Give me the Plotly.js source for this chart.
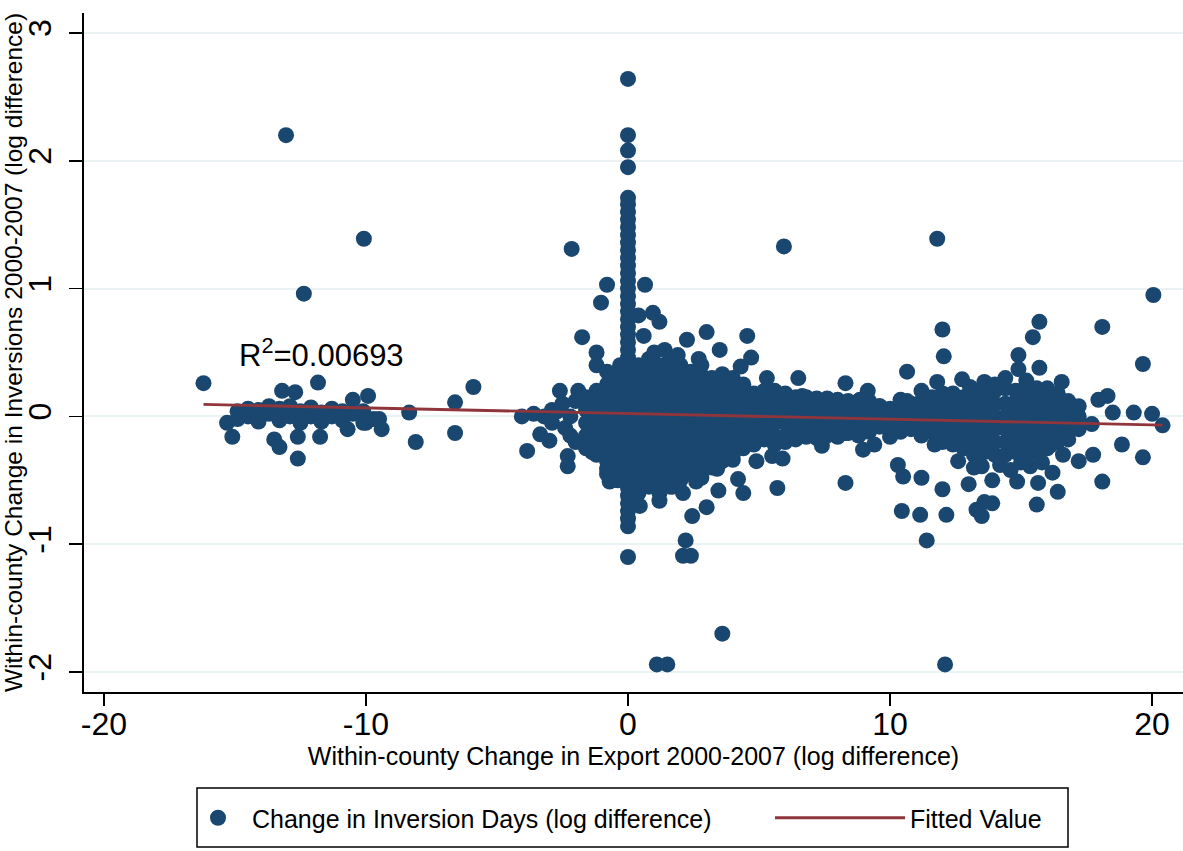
<!DOCTYPE html>
<html>
<head>
<meta charset="utf-8">
<script src="https://cdn.plot.ly/plotly-3.0.1.min.js"></script>
<style>html,body{margin:0;padding:0;background:#fff;}#chart{width:1183px;height:851px;}</style>
</head>
<body>
<div id="chart"></div>
<script>
// ---- data ----
const leftCluster = [
[-16.2,0.26],[-15.3,-0.05],[-15.1,-0.16],[-14.9,-0.02],[-14.9,0.04],[-14.5,0.0],[-14.5,0.06],[-14.1,-0.04],[-14.1,0.05],
[-13.7,0.02],[-13.7,0.08],[-13.5,-0.18],[-13.3,-0.24],[-13.3,-0.03],[-13.3,0.06],[-13.2,0.2],[-12.9,0.0],[-12.9,0.08],
[-12.7,0.19],[-12.6,-0.16],[-12.6,-0.33],[-12.5,-0.05],[-12.5,0.04],[-12.1,0.0],[-12.1,0.07],[-11.83,0.265],[-11.75,-0.16],
[-11.7,-0.04],[-11.7,0.03],[-11.3,0.0],[-11.3,0.06],[-10.9,-0.03],[-10.9,0.04],[-10.7,-0.1],[-10.5,0.02],[-10.5,0.13],
[-10.1,-0.05],[-10.1,0.04],[-10.0,-0.05],[-9.92,0.16],[-9.7,-0.02],[-9.5,-0.02],[-9.4,-0.1],[-8.35,0.03],[-8.1,-0.2],
[-6.6,0.11],[-6.6,-0.13],[-5.9,0.23],[-13.05,2.2],[-10.08,1.39],[-12.37,0.96]
];
const nearSpike = [
[-4.05,0.0],[-3.6,0.02],[-3.85,-0.27],[-3.35,-0.14],[-3.2,0.0],[-3.0,-0.19],[-2.9,0.05],[-2.9,-0.05],[-2.7,0.04],
[-2.6,0.2],[-2.5,0.1],[-2.4,-0.09],[-2.3,-0.31],[-2.3,-0.39],[-2.2,0.0],[-2.2,-0.15],[-2.0,0.12],[-2.0,-0.2],[-1.9,0.2],
[-1.75,0.62],[-1.37,-0.28],[-1.2,0.5],[-1.2,0.4],[-1.2,0.17],[-0.8,-0.41],[-0.7,-0.51],[-0.3,0.4],[-2.15,1.31],
[-1.03,0.89],[-0.8,1.03],[0.4,0.79],[0.6,0.63],[0.65,1.03],[0.95,0.81],[1.2,0.74],[1.4,0.52],[1.0,0.5],[1.9,0.48],
[2.25,0.6],[2.7,0.45],[3.0,0.66],[3.5,0.52],[4.3,0.39],[4.55,0.63],[4.7,0.46],[5.3,0.3],[6.5,0.3],[8.3,0.26],
[8.8,0.12],[9.15,0.2],[5.5,0.19],[6.65,0.16],
[0.45,-0.7],[1.2,-0.66],[1.7,-0.55],[2.1,-0.6],[2.45,-0.78],[2.6,-0.51],[3.0,-0.71],[3.4,-0.41],[3.45,-0.58],
[4.0,-0.34],[4.2,-0.49],[4.4,-0.6],[4.9,-0.35],[5.5,-0.31],[5.7,-0.56],[5.9,-0.33],[6.95,-0.14],[7.4,-0.23],
[8.3,-0.13],[8.3,-0.52],[2.2,-0.97],[2.1,-1.09],[2.4,-1.09],[0,-1.1],[1.1,-1.94],[1.5,-1.94],[3.6,-1.7]
];
const spikeAtZero = [
[0,-0.86],[0,-0.8],[0,-0.74],[0,-0.68],[0,-0.62],[0,-0.56],[0,-0.5],[0,-0.44],[0,-0.38],[0,-0.32],[0,-0.26],
[0,-0.2],[0,-0.14],[0,-0.08],[0,-0.02],[0,0.04],[0,0.1],[0,0.16],[0,0.22],[0,0.28],[0,0.34],[0,0.4],[0,0.46],
[0,0.52],[0,0.58],[0,0.64],[0,0.7],[0,0.76],[0,0.82],[0,0.88],[0,0.94],[0,1.0],[0,1.06],[0,1.12],[0,1.18],
[0,1.24],[0,1.3],[0,1.36],[0,1.42],[0,1.48],[0,1.54],[0,1.6],[0,1.66],[0,1.71],[0,1.95],[0,2.08],[0,2.2],[0,2.64]
];
const coreCluster = [
[-1.6,-0.25],[-1.6,-0.15],[-1.6,-0.05],[-1.6,0.05],[-1.6,0.15],
[-1.2,-0.3],[-1.2,-0.2],[-1.2,-0.1],[-1.2,0.0],[-1.2,0.1],[-1.2,0.2],
[-0.8,-0.45],[-0.8,-0.35],[-0.8,-0.25],[-0.8,-0.15],[-0.8,-0.05],[-0.8,0.05],[-0.8,0.15],[-0.8,0.25],[-0.8,0.35],
[-0.4,-0.5],[-0.4,-0.4],[-0.4,-0.3],[-0.4,-0.2],[-0.4,-0.1],[-0.4,0.0],[-0.4,0.1],[-0.4,0.2],[-0.4,0.3],
[0.4,-0.6],[0.4,-0.5],[0.4,-0.4],[0.4,-0.3],[0.4,-0.2],[0.4,-0.1],[0.4,0.0],[0.4,0.1],[0.4,0.2],[0.4,0.3],[0.4,0.4],
[0.8,-0.55],[0.8,-0.45],[0.8,-0.35],[0.8,-0.25],[0.8,-0.15],[0.8,-0.05],[0.8,0.05],[0.8,0.15],[0.8,0.25],[0.8,0.35],[0.8,0.45],
[1.2,-0.6],[1.2,-0.5],[1.2,-0.4],[1.2,-0.3],[1.2,-0.2],[1.2,-0.1],[1.2,0.0],[1.2,0.1],[1.2,0.2],[1.2,0.3],[1.2,0.4],
[1.6,-0.55],[1.6,-0.45],[1.6,-0.35],[1.6,-0.25],[1.6,-0.15],[1.6,-0.05],[1.6,0.05],[1.6,0.15],[1.6,0.25],[1.6,0.35],[1.6,0.45],
[2.0,-0.5],[2.0,-0.4],[2.0,-0.3],[2.0,-0.2],[2.0,-0.1],[2.0,0.0],[2.0,0.1],[2.0,0.2],[2.0,0.3],[2.0,0.4],
[2.4,-0.45],[2.4,-0.35],[2.4,-0.25],[2.4,-0.15],[2.4,-0.05],[2.4,0.05],[2.4,0.15],[2.4,0.25],[2.4,0.35],
[2.8,-0.48],[2.8,-0.38],[2.8,-0.28],[2.8,-0.18],[2.8,-0.08],[2.8,0.02],[2.8,0.12],[2.8,0.22],[2.8,0.32],[2.8,0.4],
[3.2,-0.4],[3.2,-0.3],[3.2,-0.2],[3.2,-0.1],[3.2,0.0],[3.2,0.1],[3.2,0.2],[3.2,0.3],
[3.6,-0.35],[3.6,-0.25],[3.6,-0.15],[3.6,-0.05],[3.6,0.05],[3.6,0.15],[3.6,0.25],[3.6,0.33],
[4.0,-0.3],[4.0,-0.2],[4.0,-0.1],[4.0,0.0],[4.0,0.1],[4.0,0.2],[4.0,0.3],
[4.4,-0.25],[4.4,-0.15],[4.4,-0.05],[4.4,0.05],[4.4,0.15],[4.4,0.25],
[4.8,-0.22],[4.8,-0.12],[4.8,-0.02],[4.8,0.08],[4.8,0.18],
[5.2,-0.18],[5.2,-0.08],[5.2,0.02],[5.2,0.12],[5.2,0.2],
[5.6,-0.22],[5.6,-0.15],[5.6,-0.05],[5.6,0.05],[5.6,0.13],[5.6,0.2],
[6.0,-0.2],[6.0,-0.15],[6.0,-0.05],[6.0,0.05],[6.0,0.12],[6.0,0.18],
[6.4,-0.18],[6.4,-0.12],[6.4,-0.02],[6.4,0.08],[6.4,0.15],
[6.8,-0.16],[6.8,-0.1],[6.8,0.0],[6.8,0.1],[6.8,0.15],
[7.2,-0.17],[7.2,-0.12],[7.2,-0.02],[7.2,0.08],[7.2,0.14],
[7.6,-0.15],[7.6,-0.08],[7.6,0.02],[7.6,0.1],[7.6,0.14],
[8.0,-0.16],[8.0,-0.1],[8.0,0.0],[8.0,0.08],[8.0,0.13],
[8.4,-0.13],[8.4,-0.06],[8.4,0.04],[8.4,0.12],
[8.8,-0.15],[8.8,-0.1],[8.8,0.0],[8.8,0.1],
[9.2,-0.12],[9.2,-0.05],[9.2,0.05],[9.2,0.12],
[9.6,-0.08],[9.6,0.02],[9.6,0.08],
[10.0,-0.16],[10.0,-0.1],[10.0,0.0],[10.0,0.06],
[10.4,-0.12],[10.4,-0.02],[10.4,0.08],[10.4,0.13],
[10.8,-0.1],[10.8,0.0],[10.8,0.1],
[11.2,-0.15],[11.2,-0.05],[11.2,0.05],[11.2,0.12],
[11.6,-0.12],[11.6,-0.02],[11.6,0.08],[11.6,0.15],
[12.0,-0.2],[12.0,-0.1],[12.0,0.0],[12.0,0.1],[12.0,0.18],
[12.4,-0.22],[12.4,-0.12],[12.4,-0.02],[12.4,0.08],[12.4,0.18],
[12.8,-0.25],[12.8,-0.15],[12.8,-0.05],[12.8,0.05],[12.8,0.15],
[13.2,-0.3],[13.2,-0.2],[13.2,-0.1],[13.2,0.0],[13.2,0.1],[13.2,0.2],
[13.6,-0.28],[13.6,-0.18],[13.6,-0.08],[13.6,0.02],[13.6,0.12],[13.6,0.2],
[14.0,-0.3],[14.0,-0.2],[14.0,-0.1],[14.0,0.0],[14.0,0.1],[14.0,0.2],
[14.4,-0.3],[14.4,-0.2],[14.4,-0.1],[14.4,0.0],[14.4,0.1],[14.4,0.22],
[14.8,-0.28],[14.8,-0.18],[14.8,-0.08],[14.8,0.02],[14.8,0.12],[14.8,0.2],
[15.2,-0.3],[15.2,-0.2],[15.2,-0.1],[15.2,0.0],[15.2,0.1],[15.2,0.2],
[15.6,-0.28],[15.6,-0.18],[15.6,-0.08],[15.6,0.02],[15.6,0.12],[15.6,0.22],
[16.0,-0.25],[16.0,-0.15],[16.0,-0.05],[16.0,0.05],[16.0,0.15],[16.0,0.22],
[16.4,-0.2],[16.4,-0.1],[16.4,0.0],[16.4,0.1],[16.4,0.18],
[16.8,-0.18],[16.8,-0.08],[16.8,0.02],[16.8,0.12],
[17.2,-0.1],[17.2,0.0],[17.2,0.08]
];
const rightCluster = [
[8.97,-0.26],[9.4,-0.22],[10.3,-0.38],[10.5,-0.47],[11.2,-0.48],[11.7,-0.22],[12.0,-0.57],[10.45,-0.74],[11.15,-0.77],
[12.15,-0.77],[11.4,-0.97],[10.65,0.35],[10.65,0.12],[11.2,0.2],[11.8,0.27],[12.75,0.29],[13.05,0.23],[9.6,0.08],
[8.85,0.13],[13.0,-0.53],[13.9,-0.5],[13.3,-0.73],[13.6,-0.67],[13.9,-0.68],[13.5,-0.78],[13.5,-0.39],[14.85,-0.51],
[15.6,-0.69],[15.35,-0.39],[15.65,-0.52],[16.2,-0.44],[16.4,-0.59],[17.2,-0.35],[17.75,-0.3],[18.1,-0.51],[18.85,-0.22],
[19.65,-0.32],[16.1,-0.23],[12.0,0.68],[12.05,0.47],[14.9,0.48],[15.45,0.62],[15.7,0.74],[14.9,0.37],[15.7,0.38],
[16.55,0.27],[18.3,0.16],[17.95,0.13],[18.5,0.03],[19.3,0.03],[20.0,0.02],[20.4,-0.07],[17.7,-0.06],[18.1,0.7],
[19.65,0.41],[20.05,0.95],[11.8,1.39],[5.95,1.33],[12.1,-1.94],[13.6,0.27],[14.4,0.3],[14.0,0.25],[15.2,0.28],
[12.6,-0.35],[13.2,-0.4],[14.2,-0.38],[14.6,-0.42],[15.0,-0.36],[15.8,-0.36],[16.6,-0.3]
];
const fitX = [-16.2, 20.4];
const fitY = [0.094, -0.068];
const xTicks = [-20, -10, 0, 10, 20];
const yTicks = [-2, -1, 0, 1, 2, 3];
const r2Label = 'R<sup>2</sup>=0.00693';
const scatterName = 'Change in Inversion Days (log difference)';
const fitName = 'Fitted Value';

// ---- build ----
const allPts = [].concat(leftCluster, nearSpike, spikeAtZero, coreCluster, rightCluster);
const FONT = 'Arial, "Liberation Sans", Helvetica, sans-serif';
const L = 84, PW = 1099, T = 13, PH = 679;
const px = v => (v - L) / PW;
const py = v => (T + PH - v) / PH;

const traces = [
  {
    type: 'scatter', mode: 'markers', name: scatterName,
    x: allPts.map(p => p[0]), y: allPts.map(p => p[1]),
    marker: { color: '#1a476f', size: 16, line: { width: 0 } },
    legend: 'legend', hoverinfo: 'x+y'
  },
  {
    type: 'scatter', mode: 'lines', name: fitName,
    x: fitX, y: fitY,
    line: { color: '#90353b', width: 2.8 },
    legend: 'legend2'
  }
];

const layout = {
  width: 1183, height: 851,
  margin: { l: L, r: 0, t: T, b: 851 - T - PH, pad: 0 },
  paper_bgcolor: '#ffffff', plot_bgcolor: '#ffffff',
  font: { family: FONT, color: '#000000' },
  showlegend: true,
  xaxis: {
    range: [-20.76, 21.18], tickvals: xTicks, ticktext: xTicks.map(String),
    ticks: 'outside', ticklen: 12, tickwidth: 1.6, tickcolor: '#000',
    showline: true, linecolor: '#000', linewidth: 1.6,
    showgrid: false, zeroline: false,
    tickfont: { size: 32, family: FONT, color: '#000' },
    ticklabelstandoff: -9,
    title: { text: 'Within-county Change in Export 2000-2007 (log difference)', font: { size: 25, family: FONT, color: '#000' }, standoff: 4 }
  },
  yaxis: {
    range: [-2.156, 3.156], tickvals: yTicks, ticktext: yTicks.map(String),
    tickangle: -90,
    ticks: 'outside', ticklen: 13, tickwidth: 1.6, tickcolor: '#000',
    showline: true, linecolor: '#000', linewidth: 1.6,
    showgrid: true, gridcolor: '#eaf2f3', gridwidth: 2, zeroline: false,
    tickfont: { size: 32, family: FONT, color: '#000' },
    ticklabelstandoff: 6,
    title: { text: 'Within-county Change in Inversions 2000-2007 (log difference)', font: { size: 24.5, family: FONT, color: '#000' }, standoff: 2 }
  },
  legend: {
    orientation: 'h', x: px(184), xanchor: 'left', y: py(818), yanchor: 'middle',
    bgcolor: 'rgba(0,0,0,0)', borderwidth: 0, itemwidth: 58,
    font: { size: 25, family: FONT, color: '#000' }
  },
  legend2: {
    orientation: 'h', x: px(770), xanchor: 'left', y: py(818), yanchor: 'middle',
    bgcolor: 'rgba(0,0,0,0)', borderwidth: 0, itemwidth: 130,
    font: { size: 25, family: FONT, color: '#000' }
  },
  shapes: [
    { type: 'rect', xref: 'paper', yref: 'paper', x0: px(197), x1: px(1068), y0: py(788), y1: py(847),
      line: { color: '#000', width: 1.5 }, fillcolor: 'rgba(0,0,0,0)' }
  ],
  annotations: [
    { x: -11.7, y: 0.5, xref: 'x', yref: 'y', text: r2Label, showarrow: false,
      font: { size: 31, family: FONT, color: '#000' }, xanchor: 'center', yanchor: 'middle' }
  ]
};

Plotly.newPlot('chart', traces, layout, { staticPlot: true, displayModeBar: false });
</script>
</body>
</html>
